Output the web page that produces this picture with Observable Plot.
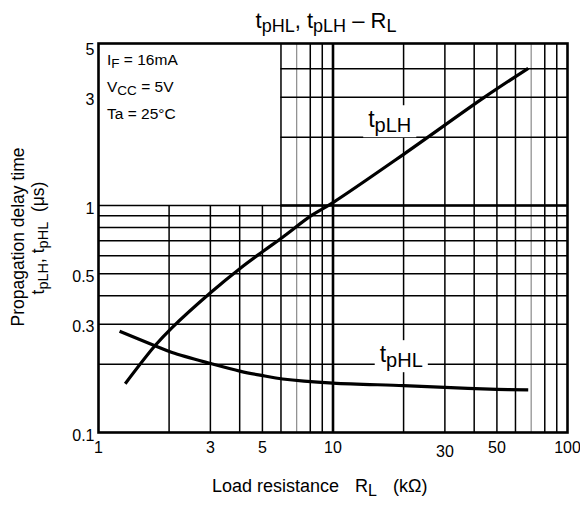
<!DOCTYPE html>
<html>
<head>
<meta charset="utf-8">
<script src="https://cdn.jsdelivr.net/npm/d3@7"></script>
<script src="https://cdn.jsdelivr.net/npm/@observablehq/plot@0.6"></script>
<style>
  body { margin: 0; background: #fff; font-family: "Liberation Sans", Arial, sans-serif; }
</style>
</head>
<body>
<div id="chart"></div>
<script>
// Propagation delay vs. load resistance (RL in kΩ, delay in µs)
const tpLH_R = [1.3, 1.74, 2.06, 3.02, 4.04, 5.02, 6.1, 8.1, 10, 20, 44.3, 68];
const tpLH_t = [0.164, 0.241, 0.29, 0.415, 0.531, 0.627, 0.725, 0.904, 1.03, 1.68, 3.0, 4.02];
const tpHL_R = [1.23, 1.74, 2.06, 3.02, 4.04, 5.02, 6.1, 10, 20, 30, 50, 68];
const tpHL_t = [0.279, 0.241, 0.225, 0.201, 0.186, 0.178, 0.172, 0.165, 0.161, 0.158, 0.155, 0.154];

// Grid lines
const xGridLower = [2, 3, 4, 5];                 // stop at 1 µs (conditions box above)
const xGridFull = [6, 8, 9, 20, 30, 40, 50, 60, 80, 90];
const xGridGray = [7, 70];
const xGridBold = [10];
const yGridFull = [0.2, 0.3, 0.4, 0.5, 0.6, 0.7, 0.8, 0.9, 1];
const yGridRight = [2, 3, 4];                    // start at 6 kΩ
const yGridBold = [1];

// Tick labels
const xTicks = [1, 3, 5, 10, 50, 100];
const xTicksLow = [30];
const yTicks = [0.1, 0.3, 0.5, 1, 3, 5];

// Text
const titleParts = [["t", 0], ["pHL", 1], [", t", 0], ["pLH", 1], [" – R", 0], ["L", 1]];
const conditions = [
  [["I", 0], ["F", 1], [" = 16mA", 0]],
  [["V", 0], ["CC", 1], [" = 5V", 0]],
  [["Ta = 25°C", 0]]
];
const curveLabels = [
  {name: [["t", 0], ["pLH", 1]], R: 14.2, t: 2.2},
  {name: [["t", 0], ["pHL", 1]], R: 15.9, t: 0.203}
];
const yLabel1 = "Propagation delay time";
const yLabel2 = [["t", 0], ["pLH", 1], [", t", 0], ["pHL", 1], ["  (μs)", 0]];
const xLabelParts = ["Load resistance", [["R", 0], ["L", 1]], "(kΩ)"];

const lh = tpLH_R.map((R, i) => ({R, t: tpLH_t[i]}));
const hl = tpHL_R.map((R, i) => ({R, t: tpHL_t[i]}));

const plot = Plot.plot({
  width: 580,
  height: 505,
  marginLeft: 98,
  marginRight: 13,
  marginTop: 43,
  marginBottom: 73,
  x: {type: "log", domain: [1, 100], axis: null},
  y: {type: "log", domain: [0.1, 5.17], axis: null},
  style: {fontFamily: "Liberation Sans, Arial, sans-serif", fontSize: "16px", color: "black", background: "white"},
  marks: [
    Plot.ruleX(xGridLower, {x: d => d, y1: 0.1, y2: 1, stroke: "black", strokeWidth: 1.5}),
    Plot.ruleX(xGridFull, {x: d => d, stroke: "black", strokeWidth: 1.5}),
    Plot.ruleX(xGridGray, {x: d => d, stroke: "#8a8a8a", strokeWidth: 1.2}),
    Plot.ruleX(xGridBold, {x: d => d, stroke: "black", strokeWidth: 2.6}),
    Plot.ruleY(yGridFull, {y: d => d, stroke: "black", strokeWidth: 1.5}),
    Plot.ruleY(yGridRight, {y: d => d, x1: 6, x2: 100, stroke: "black", strokeWidth: 1.5}),
    Plot.ruleY(yGridBold, {y: d => d, x1: 6, x2: 100, stroke: "black", strokeWidth: 2.6}),
    Plot.frame({stroke: "black", strokeWidth: 2.6}),
    Plot.line(lh, {x: "R", y: "t", curve: "catmull-rom", stroke: "black", strokeWidth: 3.2, strokeLinecap: "butt"}),
    Plot.line(hl, {x: "R", y: "t", curve: "catmull-rom", stroke: "black", strokeWidth: 3.2, strokeLinecap: "butt"}),
    Plot.text(xTicks, {x: d => d, text: d => String(d), frameAnchor: "bottom", dy: 20, fontSize: 16, fill: "black"}),
    Plot.text(xTicksLow, {x: d => d, text: d => String(d), frameAnchor: "bottom", dy: 24, fontSize: 16, fill: "black"}),
    Plot.text(yTicks, {y: d => d, text: d => String(d), frameAnchor: "left", dx: -4, dy: 3, textAnchor: "end", fontSize: 16, fill: "black"})
  ]
});

document.getElementById("chart").appendChild(plot);
const svg = d3.select(plot);
const sx = plot.scale("x"), sy = plot.scale("y");

// Text with lowered subscript runs
function rich(parent, parts, {x, y, size, sub, shift, anchor = "start", rotate = 0}) {
  const t = parent.append("text")
    .attr("x", x).attr("y", y)
    .attr("text-anchor", anchor)
    .attr("fill", "black")
    .style("font-size", size + "px")
    .style("white-space", "pre");
  if (rotate) t.attr("transform", `rotate(${rotate},${x},${y})`);
  let low = false;
  for (const [str, isSub] of parts) {
    const ts = t.append("tspan").text(str).style("font-size", (isSub ? sub : size) + "px");
    if (isSub) {
      if (!low) { ts.attr("dy", shift); low = true; }
    } else if (low) {
      ts.attr("dy", -shift); low = false;
    }
  }
  return t;
}

function plain(parent, str, {x, y, size, anchor = "start", rotate = 0}) {
  const t = parent.append("text")
    .attr("x", x).attr("y", y)
    .attr("text-anchor", anchor)
    .attr("fill", "black")
    .style("font-size", size + "px")
    .text(str);
  if (rotate) t.attr("transform", `rotate(${rotate},${x},${y})`);
  return t;
}

const g = svg.append("g");

// Title
rich(g, titleParts, {x: 326, y: 28, size: 22, sub: 18, shift: 4, anchor: "middle"});

// Test conditions
conditions.forEach((parts, i) => {
  rich(g, parts, {x: 107, y: 65 + i * 27, size: 15.5, sub: 13.5, shift: 3});
});

// Curve labels on a white patch
curveLabels.forEach(c => {
  const t = rich(g, c.name, {x: sx.apply(c.R), y: sy.apply(c.t), size: 23, sub: 20, shift: 5});
  const b = t.node().getBBox();
  g.insert("rect", () => t.node())
    .attr("x", b.x - 5).attr("y", b.y - 1)
    .attr("width", b.width + 10).attr("height", b.height + 2)
    .attr("fill", "white");
});

// Axis titles
plain(g, xLabelParts[0], {x: 212, y: 492, size: 18});
rich(g, xLabelParts[1], {x: 355, y: 492, size: 18, sub: 16, shift: 4});
plain(g, xLabelParts[2], {x: 393, y: 492, size: 18});

plain(g, yLabel1, {x: 23.5, y: 237, size: 17.5, anchor: "middle", rotate: -90});
rich(g, yLabel2, {x: 44, y: 238, size: 17.5, sub: 14.5, shift: 4, anchor: "middle", rotate: -90});
</script>
</body>
</html>
